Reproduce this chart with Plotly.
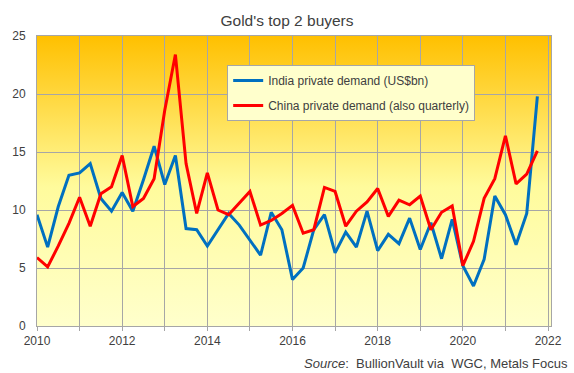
import base64
import plotly.graph_objects as go

quarters = [2010 + 0.25 * i for i in range(48)]

india = [9.6, 6.8, 10.3, 13.0, 13.2, 14.0, 11.0, 9.9, 11.5, 9.9, 12.6, 15.5,
         12.2, 14.7, 8.4, 8.3, 6.9, 8.3, 9.7, 8.7, 7.4, 6.1, 9.8, 8.3,
         4.0, 5.0, 8.3, 9.6, 6.3, 8.1, 6.8, 9.9, 6.5, 7.9, 7.1, 9.3,
         6.6, 8.9, 5.8, 9.2, 5.2, 3.45, 5.75, 11.2, 9.6, 7.0, 9.7, 19.8]

china = [5.9, 5.1, 6.9, 8.85, 11.1, 8.6, 11.4, 12.0, 14.7, 10.3, 11.0, 12.7,
         18.6, 23.4, 14.0, 9.7, 13.2, 10.0, 9.6, 10.6, 11.6, 8.7, 9.1, 9.7,
         10.4, 8.0, 8.3, 11.95, 11.6, 8.6, 9.9, 10.7, 11.85, 9.45, 10.85, 10.45,
         11.2, 8.3, 9.8, 10.35, 5.2, 7.3, 11.0, 12.7, 16.4, 12.25, 13.1, 15.1]

x_ticks = [2010, 2012, 2014, 2016, 2018, 2020, 2022]
y_ticks = [0, 5, 10, 15, 20, 25]

names = ["India private demand (US$bn)", "China private demand (also quarterly)"]
colors = ["#0070C0", "#FF0000"]

svg = ("<svg xmlns='http://www.w3.org/2000/svg' width='100' height='100' viewBox='0 0 100 100' "
       "preserveAspectRatio='none'><defs><linearGradient id='g' x1='0' y1='0' x2='0' y2='1'>"
       "<stop offset='0' stop-color='#FFC000'/><stop offset='0.52' stop-color='#FFFB9C'/>"
       "<stop offset='1' stop-color='#FFFFCC'/></linearGradient></defs>"
       "<rect x='0' y='0' width='100' height='100' fill='url(#g)'/></svg>")
src = "data:image/svg+xml;base64," + base64.b64encode(svg.encode()).decode()

fig = go.Figure()
for i, (vals, name, col) in enumerate(zip([india, china], names, colors)):
    fig.add_trace(go.Scatter(x=quarters, y=vals, mode="lines", name=name,
                             legendgroup=str(i),
                             line=dict(color=col, width=3)))

font = "Liberation Sans, Arial, sans-serif"
grid = "#A6A6A6"
fig.update_layout(
    width=574, height=373,
    margin=dict(l=35, r=19, t=36, b=47),
    paper_bgcolor="white",
    plot_bgcolor="rgba(0,0,0,0)",
    font=dict(family=font, size=12, color="#404040"),
    title=dict(text="Gold's top 2 buyers", x=0.5, xanchor="center", y=0.946, yanchor="middle",
               font=dict(size=15.5, color="#404040")),
    images=[dict(source=src, xref="paper", yref="paper", x=0, y=1, sizex=1, sizey=1,
                 sizing="stretch", xanchor="left", yanchor="top", layer="below")],
    xaxis=dict(range=[2010, 2022.07], tickvals=x_ticks, showgrid=True, gridcolor=grid,
               gridwidth=1, ticks="outside", ticklen=4, tickcolor=grid,
               minor=dict(dtick=1, showgrid=True, gridcolor=grid, gridwidth=1,
                          ticks="outside", ticklen=4, tickcolor=grid),
               showline=True, linecolor=grid, mirror=True, zeroline=False,
               tickfont=dict(size=12, color="#404040")),
    yaxis=dict(range=[0, 25], tickvals=y_ticks, showgrid=True, gridcolor=grid, gridwidth=1,
               showline=True, linecolor=grid, mirror=True, ticks="", zeroline=False,
               ticklabelstandoff=8,
               tickfont=dict(size=12, color="#404040")),
    legend=dict(x=0.37, y=0.90, xanchor="left", yanchor="top", bgcolor="#FFFFCC",
                bordercolor=grid, borderwidth=1, itemwidth=30, tracegroupgap=6,
                traceorder="grouped", font=dict(size=12, color="#404040")),
    annotations=[dict(text="<i>Source</i>:  BullionVault via  WGC, Metals Focus",
                      xref="paper", yref="paper", x=1.036, y=-0.129, xanchor="right",
                      yanchor="middle", showarrow=False, font=dict(size=13, color="#404040"))],
)

fig.write_html("out.html", config={"displayModeBar": False},
               post_script="document.body.style.margin='0px';")
